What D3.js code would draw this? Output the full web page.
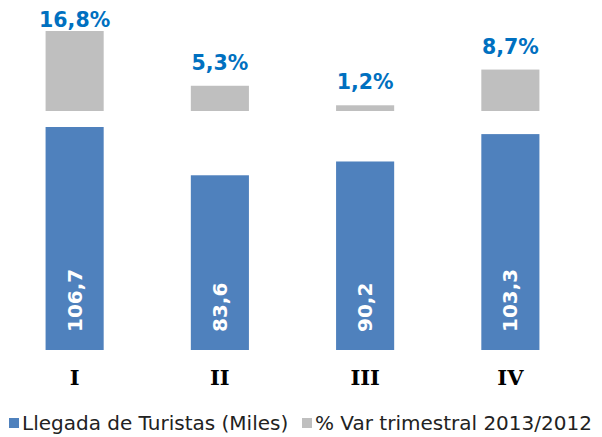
<!DOCTYPE html>
<html>
<head>
<meta charset="utf-8">
<script src="https://cdn.jsdelivr.net/npm/d3@7"></script>
<style>
  body { margin: 0; background: #fff; }
  svg { display: block; }
</style>
</head>
<body>
<svg id="chart" width="602" height="437"></svg>
<script>
const quarters = ["I", "II", "III", "IV"];
const arrivals = [106.7, 83.6, 90.2, 103.3];
const variation = [16.8, 5.3, 1.2, 8.7];
const legendLabels = ["Llegada de Turistas (Miles)", "% Var trimestral 2013/2012"];

const blue = "#4f81bd";
const gray = "#bfbfbf";
const labelBlue = "#0070c0";

const svg = d3.select("#chart");

const x = d3.scaleBand()
  .domain(quarters)
  .range([2, 583])
  .paddingInner(0.6)
  .paddingOuter(0.3);

// arrivals sit on the lower baseline, variation on the upper one
const yArr = d3.scaleLinear().domain([0, 106.7]).range([350, 127]);
const yVar = d3.scaleLinear().domain([0, 16.8]).range([111, 31]);

const comma = (d) => d3.format(".1f")(d).replace(".", ",");

svg.append("g")
  .selectAll("rect")
  .data(arrivals)
  .join("rect")
  .attr("x", (d, i) => x(quarters[i]))
  .attr("y", (d) => yArr(d))
  .attr("width", x.bandwidth())
  .attr("height", (d) => yArr(0) - yArr(d))
  .attr("fill", blue);

svg.append("g")
  .selectAll("text")
  .data(arrivals)
  .join("text")
  .attr("transform", (d, i) =>
    `translate(${x(quarters[i]) + x.bandwidth() / 2 + 7},${yArr(0) - 18}) rotate(-90)`)
  .attr("fill", "#fff")
  .attr("font-family", "DejaVu Sans, Verdana, sans-serif")
  .attr("font-weight", "bold")
  .attr("font-size", 20)
  .text(comma);

svg.append("g")
  .selectAll("rect")
  .data(variation)
  .join("rect")
  .attr("x", (d, i) => x(quarters[i]))
  .attr("y", (d) => yVar(d))
  .attr("width", x.bandwidth())
  .attr("height", (d) => yVar(0) - yVar(d))
  .attr("fill", gray);

// labels above the grey bars, kept inside the top edge
svg.append("g")
  .selectAll("text")
  .data(variation)
  .join("text")
  .attr("x", (d, i) => x(quarters[i]) + x.bandwidth() / 2)
  .attr("y", (d) => Math.max(yVar(d) - 16, 27))
  .attr("text-anchor", "middle")
  .attr("fill", labelBlue)
  .attr("font-family", "DejaVu Sans, Verdana, sans-serif")
  .attr("font-weight", "bold")
  .attr("font-size", 20.5)
  .text((d) => comma(d) + "%");

const xAxis = svg.append("g")
  .attr("transform", "translate(0,350)")
  .call(d3.axisBottom(x).tickSize(0));
xAxis.select(".domain").remove();
xAxis.selectAll("text")
  .attr("y", 35)
  .attr("dy", 0)
  .attr("fill", "#000")
  .attr("font-family", "DejaVu Serif, serif")
  .attr("font-weight", "bold")
  .attr("font-size", 21);

const legend = svg.append("g").attr("transform", "translate(0,430)");
const legendX = [9, 302];
const legendColors = [blue, gray];
legendLabels.forEach((label, i) => {
  legend.append("rect")
    .attr("x", legendX[i])
    .attr("y", -12)
    .attr("width", 10)
    .attr("height", 10)
    .attr("fill", legendColors[i]);
  legend.append("text")
    .attr("x", legendX[i] + 13)
    .attr("y", 0)
    .attr("fill", "#222")
    .attr("font-family", "DejaVu Sans, Verdana, sans-serif")
    .attr("font-size", 20)
    .text(label);
});
</script>
</body>
</html>
